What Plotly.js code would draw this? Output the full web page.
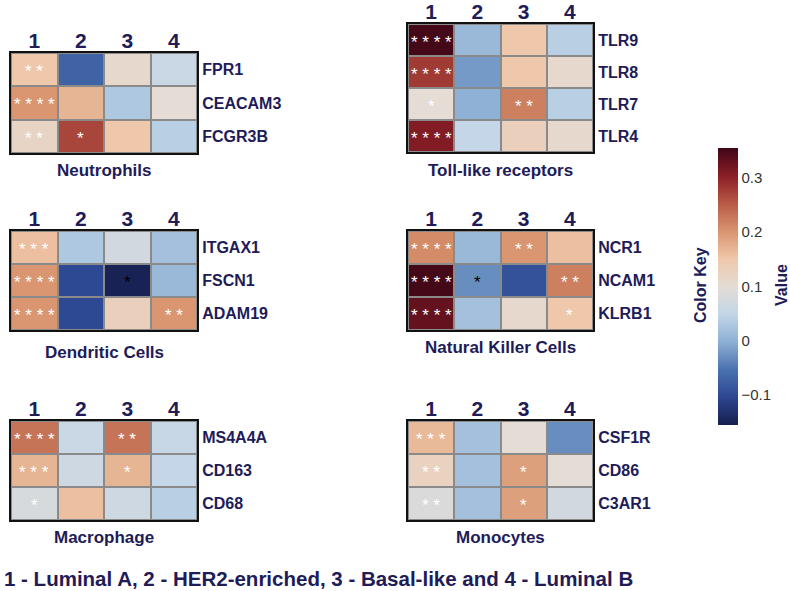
<!DOCTYPE html>
<html>
<head>
<meta charset="utf-8">
<script src="https://cdn.plot.ly/plotly-3.0.1.min.js"></script>
<style>
  body { margin: 0; background: #fff; }
  #myDiv { width: 790px; height: 591px; }
</style>
</head>
<body>
<div id="myDiv"></div>
<script>
// subtypes (columns)
var cols = ['1', '2', '3', '4'];

// each panel: genes, values (rows x cols), significance stars
var neutroGenes = ['FPR1', 'CEACAM3', 'FCGR3B'];
var neutroVals = [[0.15, -0.07, 0.11, 0.06], [0.2, 0.17, 0.03, 0.1], [0.12, 0.27, 0.15, 0.04]];
var neutroStars = [['**', '', '', ''], ['****', '', '', ''], ['**', '*', '', '']];

var tlrGenes = ['TLR9', 'TLR8', 'TLR7', 'TLR4'];
var tlrVals = [[0.35, 0.01, 0.15, 0.04], [0.28, -0.02, 0.15, 0.11], [0.1, 0.0, 0.22, 0.04], [0.31, 0.05, 0.13, 0.11]];
var tlrStars = [['****', '', '', ''], ['****', '', '', ''], ['*', '', '**', ''], ['****', '', '', '']];

var dcGenes = ['ITGAX1', 'FSCN1', 'ADAM19'];
var dcVals = [[0.16, 0.03, 0.07, 0.02], [0.2, -0.1, -0.15, 0.01], [0.2, -0.1, 0.13, 0.2]];
var dcStars = [['***', '', '', ''], ['****', '', '*', ''], ['****', '', '', '**']];

var nkGenes = ['NCR1', 'NCAM1', 'KLRB1'];
var nkVals = [[0.21, 0.01, 0.2, 0.16], [0.35, -0.03, -0.09, 0.22], [0.33, 0.02, 0.11, 0.15]];
var nkStars = [['****', '', '**', ''], ['****', '*', '', '**'], ['****', '', '', '*']];

var macGenes = ['MS4A4A', 'CD163', 'CD68'];
var macVals = [[0.23, 0.06, 0.23, 0.055], [0.17, 0.065, 0.17, 0.05], [0.08, 0.16, 0.065, 0.04]];
var macStars = [['****', '', '**', ''], ['***', '', '*', ''], ['*', '', '', '']];

var monoGenes = ['CSF1R', 'CD86', 'C3AR1'];
var monoVals = [[0.165, 0.02, 0.1, -0.03], [0.125, 0.02, 0.19, 0.1], [0.085, 0.02, 0.19, 0.07]];
var monoStars = [['***', '', '', ''], ['**', '', '*', ''], ['**', '', '*', '']];

var panelTitles = ['Neutrophils', 'Toll-like receptors', 'Dendritic Cells', 'Natural Killer Cells', 'Macrophage', 'Monocytes'];
var colorTicks = [-0.1, 0, 0.1, 0.2, 0.3];
var footer = '1 - Luminal A, 2 - HER2-enriched, 3 - Basal-like and 4 - Luminal B';

var panels = [
  {genes: neutroGenes, vals: neutroVals, stars: neutroStars, box: [11, 197, 53, 153], titleY: 170},
  {genes: tlrGenes, vals: tlrVals, stars: tlrStars, box: [408, 593, 24, 152], titleY: 170},
  {genes: dcGenes, vals: dcVals, stars: dcStars, box: [11, 197, 231, 330], titleY: 352},
  {genes: nkGenes, vals: nkVals, stars: nkStars, box: [408, 593, 231, 330], titleY: 347},
  {genes: macGenes, vals: macVals, stars: macStars, box: [11, 197, 421, 520], titleY: 537},
  {genes: monoGenes, vals: monoVals, stars: monoStars, box: [408, 593, 421, 520], titleY: 537}
];

var W = 790, H = 591;
var navy = '#211b58';
var fam = 'Liberation Sans, Arial, sans-serif';

var data = [];
var layout = {
  width: W, height: H,
  margin: {l: 0, r: 0, t: 0, b: 0},
  paper_bgcolor: '#ffffff',
  plot_bgcolor: '#8a8a8a',
  showlegend: false,
  font: {family: fam, color: navy},
  coloraxis: {
    cmin: -0.155, cmax: 0.355,
    colorscale: [
      [0, '#161e4d'], [0.1, '#2c4690'], [0.2, '#4a72b0'], [0.3, '#8db0d4'],
      [0.4, '#c3d6e8'], [0.5, '#e4dcd5'], [0.6, '#efc8aa'], [0.7, '#d8946f'],
      [0.8, '#b85a45'], [0.9, '#8a1e26'], [1, '#3e0616']
    ],
    colorbar: {
      x: 718 / W, xanchor: 'left', xpad: 0,
      y: 1 - 148 / H, yanchor: 'top', ypad: 0,
      len: 277 / H, lenmode: 'fraction', thickness: 20,
      outlinewidth: 0,
      tickvals: colorTicks, ticks: '',
      tickfont: {family: fam, size: 15, color: '#333333'}
    }
  },
  annotations: []
};

panels.forEach(function (p, i) {
  var n = i + 1;
  var xa = 'x' + n, ya = 'y' + n;
  data.push({
    type: 'heatmap',
    x: cols, y: p.genes, z: p.vals,
    coloraxis: 'coloraxis',
    xgap: 2, ygap: 2,
    xaxis: xa, yaxis: ya,
    hoverinfo: 'z'
  });
  var b = p.box;
  var axLine = {showline: true, mirror: true, linecolor: '#111111', linewidth: 2, showgrid: false, zeroline: false, ticks: '', fixedrange: true};
  layout['xaxis' + n] = Object.assign({}, axLine, {
    domain: [b[0] / W, b[1] / W], anchor: ya, side: 'top',
    type: 'category', ticklabelstandoff: -5,
    tickfont: {family: fam, size: 21, color: navy, weight: 'bold'}
  });
  layout['yaxis' + n] = Object.assign({}, axLine, {
    domain: [1 - b[3] / H, 1 - b[2] / H], anchor: xa, side: 'right',
    type: 'category', autorange: 'reversed',
    tickfont: {family: fam, size: 16, color: navy, weight: 'bold'}
  });
  // significance stars (category axes take the index as position)
  p.stars.forEach(function (row, r) {
    row.forEach(function (s, c) {
      if (!s) return;
      layout.annotations.push({
        xref: xa, yref: ya, x: c, y: r,
        text: s.split('').join(' '), showarrow: false,
        font: {family: fam, size: 17, color: p.vals[r][c] < 0 ? '#000000' : '#ffffff'},
        yshift: -2
      });
    });
  });
  // panel title
  layout.annotations.push({
    xref: 'paper', yref: 'paper',
    x: (b[0] + b[1]) / 2 / W, y: 1 - p.titleY / H,
    xanchor: 'center', yanchor: 'middle',
    text: panelTitles[i], showarrow: false,
    font: {family: fam, size: 17, color: navy, weight: 'bold'}
  });
});

// colour key labels
layout.annotations.push({
  xref: 'paper', yref: 'paper', x: 700 / W, y: 1 - 285 / H,
  xanchor: 'center', yanchor: 'middle',
  text: 'Color Key', textangle: -90, showarrow: false,
  font: {family: fam, size: 16, color: navy, weight: 'bold'}
});
layout.annotations.push({
  xref: 'paper', yref: 'paper', x: 781 / W, y: 1 - 285 / H,
  xanchor: 'center', yanchor: 'middle',
  text: 'Value', textangle: -90, showarrow: false,
  font: {family: fam, size: 16, color: navy, weight: 'bold'}
});
// footer
layout.annotations.push({
  xref: 'paper', yref: 'paper', x: 2 / W, y: 1 - 578 / H,
  xanchor: 'left', yanchor: 'middle',
  text: footer, showarrow: false,
  font: {family: fam, size: 20.5, color: navy, weight: 'bold'}
});

Plotly.newPlot('myDiv', data, layout, {displayModeBar: false, staticPlot: true});
</script>
</body>
</html>
